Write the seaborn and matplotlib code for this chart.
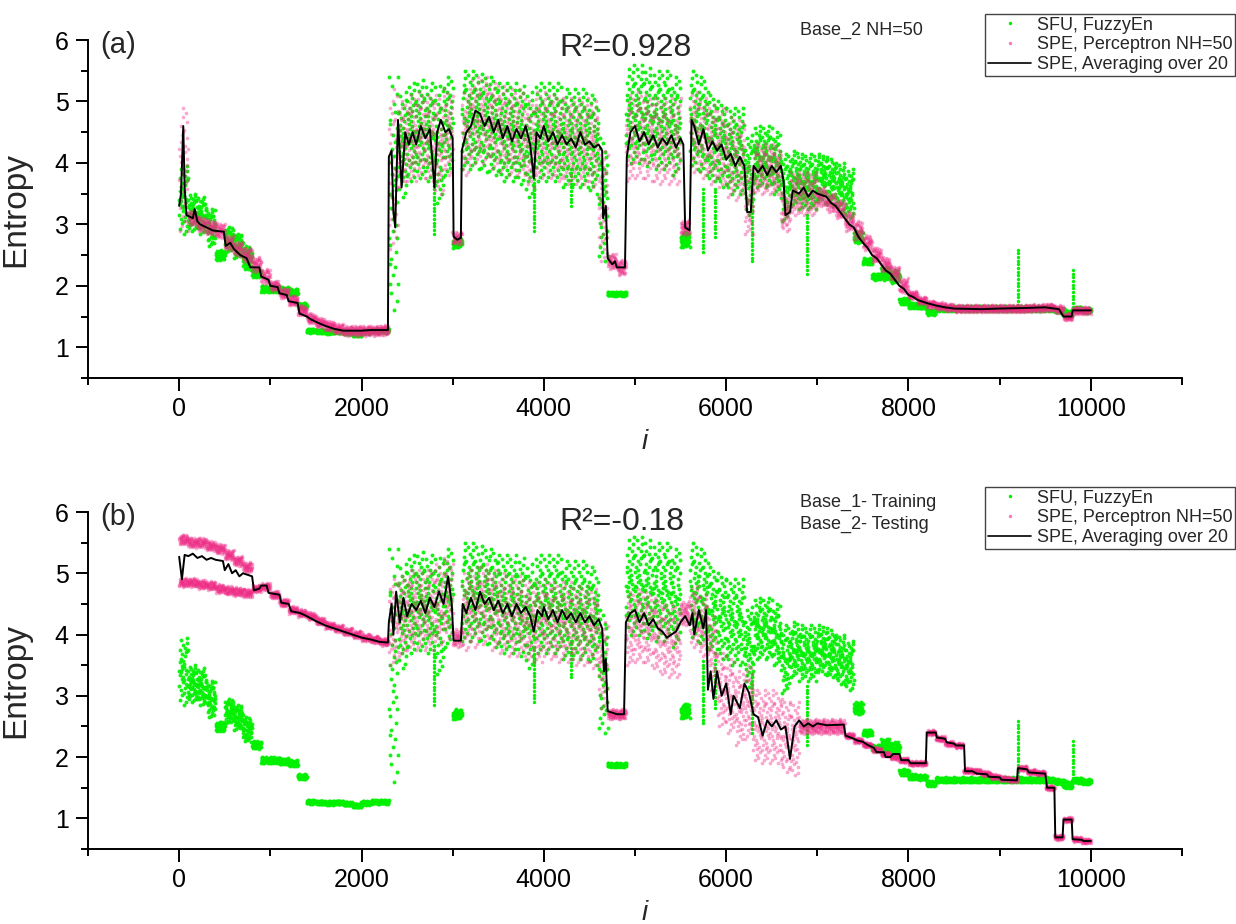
import numpy as np
import pandas as pd
import matplotlib
matplotlib.use("Agg")
import matplotlib.pyplot as plt
import seaborn as sns
from matplotlib.lines import Line2D
from matplotlib.ticker import MultipleLocator

# ---------------- data ----------------
BIN = 100  # bin width in i for the scatter clouds (bins start at 0,100,...,9900)

# SFU, FuzzyEn (same series in both panels): per-bin centre and half-spread
green_c = [3.4, 3.2, 3.15, 2.95, 2.5, 2.75, 2.65, 2.45, 2.2, 1.95,
           1.95, 1.93, 1.9, 1.68, 1.27, 1.26, 1.25, 1.26, 1.24, 1.21,
           1.25, 1.27, 1.27, 3.5, 4.3, 4.5, 4.55, 4.5, 4.3, 4.6,
           2.7, 4.7, 4.7, 4.65, 4.6, 4.5, 4.5, 4.45, 4.3, 4.5,
           4.5, 4.5, 4.4, 4.4, 4.4, 4.3, 3.4, 1.87, 1.87, 4.8,
           4.8, 4.75, 4.7, 4.7, 4.6, 2.75, 4.7, 4.6, 4.4, 4.3,
           4.2, 4.2, 3.8, 4.1, 4.1, 4.0, 3.6, 3.75, 3.7, 3.7,
           3.75, 3.7, 3.6, 3.5, 2.8, 2.4, 2.15, 2.2, 2.15, 1.75,
           1.68, 1.67, 1.57, 1.63, 1.63, 1.63, 1.63, 1.63, 1.63, 1.63,
           1.63, 1.63, 1.63, 1.63, 1.63, 1.63, 1.6, 1.55, 1.62, 1.6]
green_s = [0.55, 0.3, 0.3, 0.3, 0.08, 0.2, 0.2, 0.2, 0.06, 0.05,
           0.05, 0.05, 0.05, 0.04, 0.03, 0.03, 0.03, 0.03, 0.03, 0.03,
           0.03, 0.03, 0.03, 1.9, 0.85, 0.8, 0.8, 0.8, 0.95, 0.8,
           0.08, 0.8, 0.8, 0.8, 0.8, 0.8, 0.8, 0.8, 0.85, 0.8,
           0.8, 0.8, 0.8, 0.8, 0.8, 0.8, 1.0, 0.03, 0.03, 0.8,
           0.8, 0.8, 0.8, 0.8, 0.8, 0.12, 0.8, 0.8, 0.7, 0.7,
           0.7, 0.7, 0.65, 0.5, 0.5, 0.5, 0.55, 0.45, 0.45, 0.45,
           0.4, 0.4, 0.4, 0.4, 0.1, 0.05, 0.05, 0.1, 0.1, 0.05,
           0.04, 0.04, 0.04, 0.04, 0.04, 0.04, 0.04, 0.04, 0.04, 0.04,
           0.04, 0.04, 0.04, 0.04, 0.04, 0.04, 0.04, 0.06, 0.04, 0.04]
# vertical streaks of green dots: position, lower end, upper end
green_streak_x = [2800, 3890, 4300, 5750, 5880, 6280, 6890, 9200, 9800]
green_streak_lo = [2.85, 2.9, 3.3, 2.55, 2.8, 2.4, 2.2, 1.63, 1.6]
green_streak_hi = [3.8, 3.8, 3.9, 3.6, 3.6, 3.4, 3.2, 2.6, 2.3]

# SPE, Perceptron NH=50 -- panel (a)
pink_a_c = [3.9, 3.1, 3.0, 2.95, 2.9, 2.7, 2.6, 2.5, 2.35, 2.15,
            2.0, 1.88, 1.76, 1.6, 1.47, 1.4, 1.35, 1.3, 1.27, 1.27,
            1.27, 1.27, 1.28, 3.9, 4.3, 4.4, 4.45, 4.4, 4.3, 4.5,
            2.78, 4.5, 4.7, 4.7, 4.6, 4.55, 4.5, 4.5, 4.3, 4.45,
            4.45, 4.4, 4.35, 4.35, 4.35, 4.3, 3.3, 2.4, 2.3, 4.4,
            4.45, 4.4, 4.35, 4.35, 4.35, 2.95, 4.5, 4.4, 4.3, 4.25,
            4.1, 4.05, 3.4, 3.9, 3.9, 3.9, 3.2, 3.5, 3.5, 3.5,
            3.45, 3.35, 3.25, 3.05, 2.9, 2.7, 2.5, 2.35, 2.2, 2.0,
            1.85, 1.76, 1.7, 1.67, 1.65, 1.63, 1.63, 1.63, 1.63, 1.63,
            1.63, 1.63, 1.63, 1.64, 1.64, 1.65, 1.62, 1.5, 1.6, 1.6]
pink_a_s = [1.0, 0.12, 0.12, 0.12, 0.12, 0.12, 0.12, 0.12, 0.12, 0.12,
            0.08, 0.08, 0.08, 0.08, 0.08, 0.08, 0.08, 0.08, 0.08, 0.08,
            0.08, 0.08, 0.08, 1.3, 0.7, 0.7, 0.7, 0.7, 0.8, 0.7,
            0.1, 0.7, 0.7, 0.7, 0.7, 0.7, 0.7, 0.7, 0.7, 0.7,
            0.7, 0.7, 0.7, 0.7, 0.7, 0.7, 0.9, 0.12, 0.12, 0.7,
            0.7, 0.7, 0.7, 0.7, 0.7, 0.12, 0.65, 0.65, 0.65, 0.65,
            0.65, 0.65, 0.55, 0.4, 0.4, 0.4, 0.3, 0.35, 0.35, 0.35,
            0.15, 0.15, 0.15, 0.15, 0.15, 0.12, 0.12, 0.12, 0.12, 0.12,
            0.06, 0.06, 0.06, 0.06, 0.06, 0.06, 0.06, 0.06, 0.06, 0.06,
            0.06, 0.06, 0.06, 0.06, 0.06, 0.06, 0.06, 0.06, 0.06, 0.06]

# SPE, Perceptron NH=50 -- panel (b)
pink_b_c = [5.55, 5.5, 5.5, 5.45, 5.4, 5.3, 5.2, 5.1, 4.75, 4.78,
            4.65, 4.52, 4.4, 4.35, 4.3, 4.22, 4.15, 4.1, 4.05, 4.0,
            3.95, 3.92, 3.88, 4.2, 4.3, 4.4, 4.4, 4.4, 4.5, 4.6,
            3.95, 4.4, 4.45, 4.5, 4.4, 4.35, 4.3, 4.3, 4.2, 4.2,
            4.25, 4.2, 4.2, 4.15, 4.15, 4.1, 3.5, 2.7, 2.7, 4.1,
            4.15, 4.1, 4.0, 3.9, 3.9, 4.35, 4.3, 4.15, 3.7, 3.1,
            3.0, 2.8, 2.9, 2.5, 2.5, 2.5, 2.35, 2.3, 2.5, 2.5,
            2.5, 2.5, 2.5, 2.35, 2.27, 2.2, 2.12, 2.05, 2.0, 1.95,
            1.9, 1.9, 2.4, 2.3, 2.22, 2.19, 1.78, 1.77, 1.73, 1.68,
            1.65, 1.63, 1.82, 1.76, 1.74, 1.5, 0.69, 0.98, 0.66, 0.63]
pink_b_s = [0.08, 0.08, 0.08, 0.08, 0.08, 0.08, 0.08, 0.08, 0.06, 0.06,
            0.06, 0.06, 0.06, 0.06, 0.06, 0.06, 0.06, 0.06, 0.06, 0.06,
            0.06, 0.06, 0.06, 0.7, 0.65, 0.65, 0.65, 0.65, 0.65, 0.65,
            0.15, 0.65, 0.65, 0.65, 0.65, 0.65, 0.65, 0.65, 0.65, 0.65,
            0.65, 0.65, 0.65, 0.65, 0.65, 0.65, 0.7, 0.08, 0.08, 0.6,
            0.6, 0.6, 0.6, 0.6, 0.6, 0.2, 0.5, 0.5, 0.6, 0.6,
            0.6, 0.6, 0.6, 0.6, 0.6, 0.6, 0.6, 0.6, 0.12, 0.12,
            0.12, 0.12, 0.12, 0.04, 0.04, 0.04, 0.04, 0.04, 0.04, 0.04,
            0.04, 0.04, 0.04, 0.04, 0.04, 0.04, 0.04, 0.04, 0.04, 0.04,
            0.04, 0.04, 0.04, 0.04, 0.04, 0.04, 0.04, 0.04, 0.04, 0.04]
# lower pink band at the start of panel (b), bins 0..7
pink_b_low_c = [4.85, 4.85, 4.82, 4.8, 4.75, 4.72, 4.7, 4.68]
pink_b_low_s = [0.07, 0.07, 0.07, 0.07, 0.07, 0.07, 0.07, 0.07]

# SPE, Averaging over 20 -- panel (a)
avg_a_x = [0, 20, 45, 60, 80, 150, 170, 200, 230, 300, 370, 490, 510, 560, 600, 670, 740, 780,
           880, 900, 980, 1000, 1080, 1100, 1180, 1200, 1300, 1320, 1400, 1450, 1520, 1600, 1700,
           1800, 2000, 2100, 2290, 2300, 2330, 2350, 2370, 2400, 2440, 2480, 2520, 2560, 2600,
           2650, 2700, 2750, 2800, 2830, 2870, 2920, 2960, 3000, 3010, 3050, 3090, 3100, 3150,
           3200, 3250, 3300, 3350, 3400, 3450, 3500, 3550, 3600, 3650, 3700, 3750, 3800, 3850,
           3890, 3920, 3960, 4000, 4050, 4100, 4150, 4200, 4250, 4300, 4350, 4400, 4450, 4500,
           4550, 4600, 4640, 4650, 4680, 4700, 4750, 4780, 4800, 4850, 4890, 4910, 4950, 5000,
           5050, 5100, 5150, 5200, 5250, 5300, 5350, 5400, 5450, 5500, 5530, 5550, 5600, 5620,
           5650, 5700, 5750, 5800, 5850, 5900, 5950, 6000, 6050, 6100, 6150, 6200, 6230, 6270,
           6300, 6350, 6400, 6450, 6500, 6550, 6600, 6630, 6650, 6700, 6730, 6800, 6850, 6900,
           6950, 7000, 7100, 7150, 7200, 7250, 7300, 7350, 7400, 7450, 7500, 7550, 7600, 7650,
           7700, 7750, 7800, 7850, 7900, 7950, 8000, 8050, 8100, 8200, 8300, 8400, 8500, 8800,
           9000, 9300, 9500, 9650, 9700, 9790, 9800, 10000]
avg_a_y = [3.3, 3.5, 4.6, 3.6, 3.15, 3.1, 3.25, 3.05, 3.0, 2.95, 2.9, 2.88, 2.65, 2.7, 2.6, 2.5, 2.45, 2.3,
           2.3, 2.15, 2.1, 2.0, 1.98, 1.88, 1.85, 1.75, 1.72, 1.55, 1.5, 1.45, 1.4, 1.35, 1.3,
           1.27, 1.27, 1.28, 1.28, 4.1, 4.2, 3.2, 2.95, 4.7, 3.6, 4.5, 4.3, 4.5, 4.3,
           4.6, 4.4, 4.55, 3.6, 4.5, 4.7, 4.5, 4.55, 4.4, 2.8, 2.75, 2.78, 4.2, 4.5,
           4.6, 4.85, 4.8, 4.6, 4.75, 4.5, 4.7, 4.4, 4.6, 4.35, 4.55, 4.4, 4.6, 4.3,
           3.75, 4.5, 4.4, 4.6, 4.35, 4.5, 4.3, 4.45, 4.3, 4.4, 4.25, 4.5, 4.3, 4.35,
           4.25, 4.3, 4.2, 3.1, 3.3, 2.45, 2.35, 2.4, 2.3, 2.3, 2.3, 4.1, 4.5, 4.6,
           4.35, 4.5, 4.3, 4.45, 4.25, 4.4, 4.3, 4.45, 4.25, 4.4, 4.3, 2.95, 2.9, 4.7,
           4.6, 4.3, 4.55, 4.2, 4.35, 4.2, 4.3, 4.05, 4.15, 3.95, 4.1, 3.95, 3.2, 3.2,
           3.95, 3.85, 3.95, 3.8, 3.95, 3.85, 3.95, 3.7, 3.15, 3.2, 3.55, 3.5, 3.6, 3.45,
           3.55, 3.5, 3.45, 3.35, 3.3, 3.2, 3.1, 3.0, 2.95, 2.8, 2.7, 2.62, 2.5, 2.45,
           2.35, 2.25, 2.2, 2.1, 2.0, 1.95, 1.85, 1.82, 1.77, 1.72, 1.68, 1.65, 1.63, 1.62,
           1.63, 1.64, 1.65, 1.62, 1.5, 1.5, 1.6, 1.6]

# SPE, Averaging over 20 -- panel (b)
avg_b_x = [0, 30, 60, 100, 150, 200, 250, 300, 350, 400, 480, 500, 540, 580, 620, 660, 700, 800,
           820, 880, 900, 960, 980, 1100, 1120, 1200, 1230, 1330, 1400, 1500, 1600, 1700, 1800,
           1900, 2000, 2100, 2200, 2290, 2300, 2330, 2350, 2380, 2420, 2460, 2500, 2550, 2600,
           2650, 2700, 2750, 2800, 2850, 2900, 2950, 2990, 3010, 3090, 3110, 3150, 3200, 3250,
           3300, 3350, 3400, 3450, 3500, 3550, 3600, 3650, 3700, 3750, 3800, 3850, 3890, 3930,
           3980, 4000, 4050, 4100, 4150, 4200, 4250, 4300, 4350, 4400, 4450, 4500, 4550, 4600,
           4640, 4660, 4680, 4700, 4800, 4880, 4900, 4950, 5000, 5050, 5100, 5150, 5200, 5250,
           5300, 5350, 5400, 5450, 5500, 5550, 5600, 5630, 5650, 5700, 5750, 5780, 5800, 5830,
           5860, 5900, 5950, 6000, 6050, 6080, 6100, 6150, 6200, 6250, 6300, 6350, 6400, 6450,
           6500, 6550, 6600, 6650, 6700, 6750, 6800, 6850, 6900, 6950, 7000, 7100, 7290, 7310,
           7400, 7440, 7500, 7550, 7620, 7650, 7730, 7750, 7800, 7830, 7900, 7920, 8000, 8020,
           8190, 8200, 8300, 8310, 8400, 8420, 8500, 8520, 8610, 8620, 8700, 8750, 8860, 8880,
           9000, 9020, 9190, 9200, 9300, 9320, 9500, 9520, 9600, 9610, 9690, 9700, 9790, 9800,
           9900, 9920, 10000]
avg_b_y = [5.27, 4.9, 5.3, 5.28, 5.32, 5.25, 5.28, 5.22, 5.25, 5.22, 5.2, 5.05, 5.15, 5.0, 5.05, 4.95, 5.0, 4.95,
           4.72, 4.75, 4.8, 4.8, 4.68, 4.65, 4.52, 4.5, 4.38, 4.35, 4.3, 4.22, 4.15, 4.1, 4.05,
           4.0, 3.95, 3.92, 3.88, 3.87, 4.2, 4.5, 4.0, 4.7, 4.2, 4.6, 4.3, 4.5, 4.4,
           4.55, 4.35, 4.6, 4.45, 4.7, 4.5, 4.95, 4.5, 3.9, 3.9, 4.5, 4.35, 4.6, 4.4,
           4.7, 4.5, 4.6, 4.4, 4.55, 4.35, 4.5, 4.3, 4.5, 4.35, 4.45, 4.3, 4.05, 4.4,
           4.3, 4.45, 4.25, 4.4, 4.2, 4.4, 4.25, 4.35, 4.2, 4.35, 4.2, 4.3, 4.15, 4.25,
           4.1, 3.4, 3.6, 2.75, 2.7, 2.7, 4.2, 4.35, 4.4, 4.2, 4.35, 4.15, 4.25, 4.1,
           4.05, 3.95, 4.0, 4.05, 4.2, 4.3, 4.15, 4.35, 4.0, 4.4, 4.1, 4.4, 3.1, 3.4,
           2.95, 3.4, 3.0, 3.2, 2.7, 3.0, 2.95, 2.8, 3.2, 3.05, 2.7, 2.65, 2.35, 2.6,
           2.5, 2.6, 2.45, 2.5, 1.97, 2.5, 2.6, 2.5, 2.55, 2.5, 2.55, 2.52, 2.53, 2.35,
           2.3, 2.27, 2.25, 2.2, 2.15, 2.08, 2.08, 2.0, 2.0, 2.05, 2.05, 1.95, 1.95, 1.9,
           1.9, 2.4, 2.4, 2.32, 2.3, 2.24, 2.22, 2.19, 2.19, 1.77, 1.77, 1.73, 1.72, 1.68,
           1.67, 1.63, 1.62, 1.82, 1.8, 1.75, 1.73, 1.5, 1.5, 0.69, 0.69, 0.98, 0.98, 0.66,
           0.65, 0.63, 0.63]

# fixed placement offsets used cyclically for the dots inside each bin
# (vertical: fraction of the half-spread; horizontal: fraction of the dot pitch)
cloud_y_offsets = [0.0, -0.44, 0.63, -0.12, 0.27, -0.85, 0.38, -0.56, -0.03, 0.92, -0.22, 0.17,
                   -0.7, 0.5, 0.07, 0.77, -0.32, 0.32, -0.17, -1.0, 0.22, -0.63, 0.12, 0.44,
                   -0.27, 0.7, -0.5, 0.03, -0.92, 0.56, -0.07, 0.85, -0.38, 1.0, -0.77, 0.6, -0.6]
cloud_x_offsets = [0.3, -0.8, 0.55, -0.1, 0.9, -0.45, 0.15, -0.95, 0.7, -0.3, 0.05, 0.85,
                   -0.6, 0.4, -0.2, 1.0, -0.7, 0.25, -0.5, 0.65, -0.05, -0.9, 0.5]
DOTS_PER_BIN = 40

r2_text = ["R\u00b2=0.928", "R\u00b2=-0.18"]
legend_labels = ["SFU, FuzzyEn", "SPE, Perceptron NH=50", "SPE, Averaging over 20"]

GREEN = "#00F000"
PINK = "#EE2A85"


def cloud(center, spread, phase, first_bin=0):
    n = DOTS_PER_BIN
    nb = len(center)
    starts = (first_bin + np.arange(nb)) * BIN
    idx = np.arange(nb * n) + phase
    yo = np.asarray(cloud_y_offsets)[idx % len(cloud_y_offsets)].reshape(nb, n)
    xo = np.asarray(cloud_x_offsets)[idx % len(cloud_x_offsets)].reshape(nb, n)
    xs = (starts[:, None] + (np.arange(n)[None, :] + 0.5 + 1.5 * xo) * BIN / n).ravel()
    ys = (np.asarray(center)[:, None] + np.asarray(spread)[:, None] * yo).ravel()
    return pd.DataFrame({"i": xs, "Entropy": ys})


def streaks():
    xs, ys = [], []
    for x, lo, hi in zip(green_streak_x, green_streak_lo, green_streak_hi):
        for y in np.arange(lo, hi + 1e-9, 0.06):
            xs.append(x)
            ys.append(y)
    return pd.DataFrame({"i": xs, "Entropy": ys})


sns.set_theme(style="ticks")
plt.rcParams["font.family"] = ["Liberation Sans", "DejaVu Sans"]

W, H = 1236, 924
fig = plt.figure(figsize=(W / 100, H / 100), dpi=100)
ax_a = fig.add_axes([88 / W, 1 - 378 / H, 1094 / W, 338 / H])
ax_b = fig.add_axes([88 / W, 1 - 849 / H, 1094 / W, 337 / H])

green_df = cloud(green_c, green_s, 0)
streak_df = streaks()

panels = [
    (ax_a, [cloud(pink_a_c, pink_a_s, 17)], avg_a_x, avg_a_y),
    (ax_b, [cloud(pink_b_c, pink_b_s, 17),
            cloud(pink_b_low_c, pink_b_low_s, 5)], avg_b_x, avg_b_y),
]

for ax, pink_dfs, ax_x, ax_y in panels:
    sns.scatterplot(data=green_df, x="i", y="Entropy", ax=ax, color=GREEN, s=8,
                    linewidth=0, alpha=0.9, legend=False, zorder=2)
    sns.scatterplot(data=streak_df, x="i", y="Entropy", ax=ax, color=GREEN, s=6,
                    linewidth=0, legend=False, zorder=2)
    for pdf in pink_dfs:
        sns.scatterplot(data=pdf, x="i", y="Entropy", ax=ax, color=PINK, s=7,
                        linewidth=0, alpha=0.4, legend=False, zorder=3)
    sns.lineplot(x=ax_x, y=ax_y, ax=ax, color="black", linewidth=1.4,
                 sort=False, estimator=None, zorder=4)

    ax.set_xlim(-1000, 11000)
    ax.set_ylim(0.5, 6)
    ax.xaxis.set_major_locator(MultipleLocator(2000))
    ax.xaxis.set_minor_locator(MultipleLocator(1000))
    ax.yaxis.set_major_locator(MultipleLocator(1))
    ax.yaxis.set_minor_locator(MultipleLocator(0.5))
    for side in ["top", "right"]:
        ax.spines[side].set_visible(False)
    for side in ["left", "bottom"]:
        ax.spines[side].set_linewidth(1.4)
        ax.spines[side].set_color("black")
    ax.tick_params(which="major", direction="out", length=9, width=1.4, labelsize=18,
                   colors="black", pad=5)
    ax.tick_params(which="minor", direction="out", length=5, width=1.4, colors="black")
    ax.set_xlabel("i", fontsize=20, style="italic")
    ax.set_ylabel("Entropy", fontsize=24)
    ax.yaxis.set_label_coords(-0.052, 0.5)
    ax.xaxis.set_label_coords(0.509, -0.15)
    ax.grid(False)

handles = [
    Line2D([], [], ls="", marker="o", markersize=2.5, color=GREEN, markeredgewidth=0),
    Line2D([], [], ls="", marker="o", markersize=2.5, color=PINK, alpha=0.6, markeredgewidth=0),
    Line2D([], [], color="black", linewidth=1.2),
]
for top_px in [14, 487]:
    leg = fig.legend(handles, legend_labels, loc="upper right",
                     bbox_to_anchor=(1235 / W, 1 - top_px / H), fontsize=13,
                     frameon=True, fancybox=False, edgecolor="#444444", framealpha=1,
                     handlelength=2.4, handletextpad=0.3, labelspacing=0.15,
                     borderpad=0.15, borderaxespad=0.0)
    leg.get_frame().set_linewidth(1.0)

fig.text(100 / W, 1 - 45 / H, "(a)", fontsize=21, va="center", ha="left")
fig.text(100 / W, 1 - 517 / H, "(b)", fontsize=21, va="center", ha="left")
fig.text(625 / W, 1 - 48 / H, r2_text[0], fontsize=23, va="center", ha="center")
fig.text(622 / W, 1 - 522 / H, r2_text[1], fontsize=23, va="center", ha="center")
fig.text(800 / W, 1 - 30 / H, "Base_2 NH=50", fontsize=13, va="center", ha="left")
fig.text(800 / W, 1 - 502 / H, "Base_1- Training", fontsize=13, va="center", ha="left")
fig.text(800 / W, 1 - 524 / H, "Base_2- Testing", fontsize=13, va="center", ha="left")

fig.savefig("out.png", dpi=100, facecolor="white")
